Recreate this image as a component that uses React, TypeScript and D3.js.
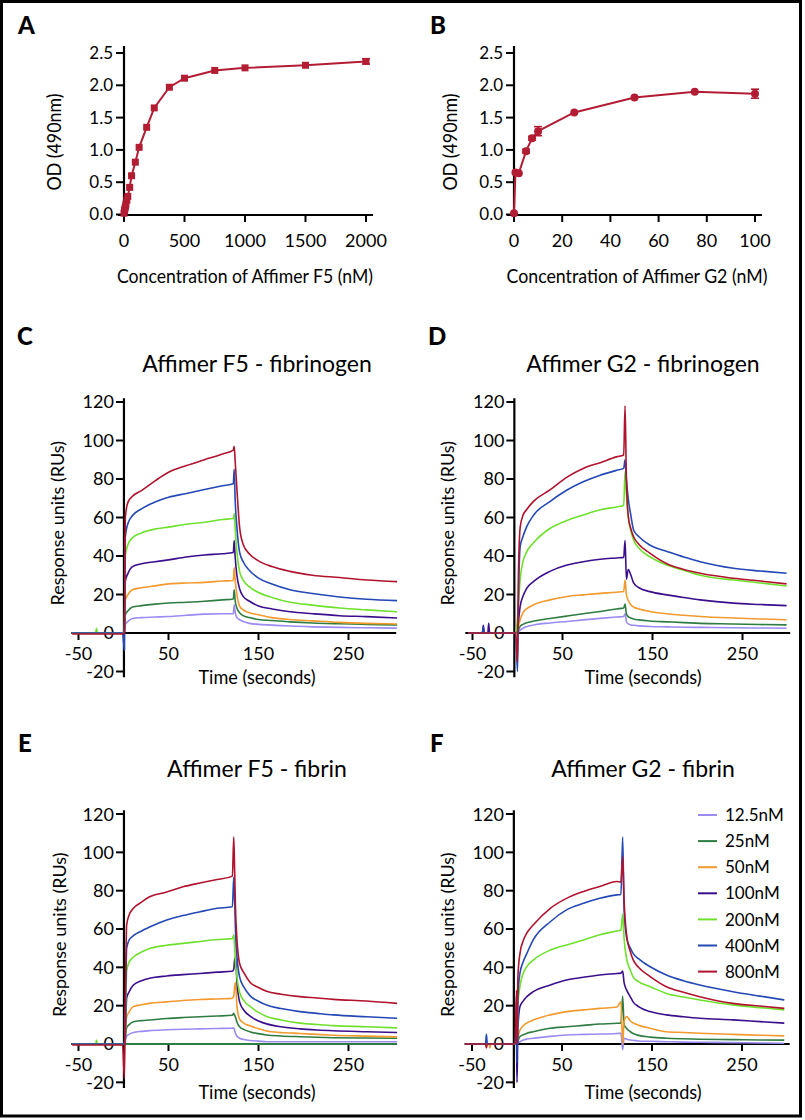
import React from "react";
import * as d3 from "d3";

const FONT = "Lato, 'Open Sans', sans-serif";

// ---------- Panel A: ELISA, Affimer F5 ----------
const f5Conc = [0, 3.9, 7.8, 11.7, 15.6, 23.4, 31.25, 46.9, 62.5, 93.75, 125, 187.5, 250, 375, 500, 750, 1000, 1500, 2000];
const f5OD = [0.02, 0.06, 0.09, 0.12, 0.16, 0.22, 0.28, 0.42, 0.6, 0.81, 1.04, 1.35, 1.65, 1.97, 2.11, 2.23, 2.27, 2.31, 2.37];
const f5Err = [0.01, 0.01, 0.01, 0.01, 0.01, 0.01, 0.02, 0.02, 0.02, 0.02, 0.02, 0.02, 0.02, 0.02, 0.02, 0.02, 0.02, 0.02, 0.04];
const f5XTicks = [0, 500, 1000, 1500, 2000];

// ---------- Panel B: ELISA, Affimer G2 ----------
const g2Conc = [0, 0.6, 2, 5, 7.5, 10, 25, 50, 75, 100];
const g2OD = [0.02, 0.65, 0.64, 0.98, 1.18, 1.29, 1.58, 1.81, 1.9, 1.87];
const g2Err = [0.01, 0.02, 0.02, 0.03, 0.03, 0.07, 0.02, 0.02, 0.02, 0.07];
const g2XTicks = [0, 20, 40, 60, 80, 100];

const odTicks = [0, 0.5, 1.0, 1.5, 2.0, 2.5];

// ---------- Sensorgram shared ----------
const concLabels = ["12.5nM", "25nM", "50nM", "100nM", "200nM", "400nM", "800nM"];
const concColors = ["#9a8cf0", "#2f7c42", "#f29a2e", "#3a0e8c", "#70e02e", "#2448b4", "#b0132d"];
const sensYTicks = [-20, 0, 20, 40, 60, 80, 100, 120];
const sensXTicks = [-50, 50, 150, 250];

// ---------- Panel C: F5 - fibrinogen ----------
const tC = [-57, -31, -30, -29, -1, 1, 2, 5, 10, 20, 35, 50, 70, 90, 110, 122, 123, 124, 126, 129, 133, 140, 150, 165, 185, 210, 240, 270, 304];
const c800 = [-0.5, -0.5, -0.5, -0.5, -0.5, 0, 60, 68, 71, 74, 79, 83.5, 87, 90, 93, 95, 97, 90, 75, 55, 46, 41, 37.5, 34.5, 32, 30, 28.8, 27.5, 26.7];
const c400 = [0, 0, 0, 0, 0, -9, 50, 57, 61, 64.5, 68, 70.5, 72.5, 74.5, 76.5, 77.5, 85, 70, 55, 42, 37, 32.5, 28.5, 25.5, 22.5, 20.5, 18.7, 17.5, 16.8];
const c200 = [0, 0, 2.5, 0, 0, 0, 40, 46, 49.5, 52, 54, 55, 56.5, 57.5, 59, 59.5, 62, 55, 42, 32, 27.5, 24, 21, 18.5, 16, 14.5, 13, 12, 11];
const c100 = [0, 0, 0, 0, 0, 0, 27, 31, 34.5, 36, 37, 38, 39.5, 40.5, 41.2, 41.8, 48, 40, 30, 23, 19, 16.5, 14, 12.5, 11, 10, 9, 8.5, 7.8];
const c50 = [0, 0, 0, 0, 0, 0, 17, 20, 22.5, 23.5, 24.5, 25.5, 26, 26.3, 27, 27.3, 34, 28, 20, 14, 12, 10.5, 9.5, 8, 7, 6.3, 5.5, 5, 4.7];
const c25 = [0, 0, 0, 0, 0, 0, 9.5, 11.5, 13.5, 14.2, 15, 15.6, 16, 16.5, 17.2, 17.7, 22.5, 17, 13, 10.5, 9, 8, 7, 6.5, 5.8, 5.2, 4.8, 4.5, 4.2];
const c12 = [0, 0, 0, 0, 0, 0, 4.5, 6, 7.5, 8, 8.3, 8.6, 9.2, 9.8, 10, 10, 14.7, 11, 8, 6.9, 6, 5, 4.5, 4.1, 3.6, 3.2, 2.9, 2.7, 2.5];

// ---------- Panel D: G2 - fibrinogen ----------
const tD = [-55, -39, -38, -37, -33, -32, -31, -2, 0, 1, 3, 6, 10, 18, 36, 55, 73, 92, 110, 118, 119.5, 121, 123, 126, 129, 135, 147, 166, 185, 203, 240, 270, 299];
const d800 = [0, 0, 0, 0, 0, 0, 0, 0, -15, 30, 55, 61, 64, 68.5, 74.3, 81, 85.5, 88.5, 91.5, 92.5, 118, 80, 61, 54, 50, 46, 41.5, 36, 33, 31, 28.4, 27, 25.5];
const d400 = [0, 0, 3, 0, 0, 0, 0, 0, -20, 15, 45, 50, 55, 61.3, 68.3, 74.3, 78.6, 82, 84.5, 85.5, 90, 80, 70, 61, 53.5, 50, 45.7, 42.3, 39.5, 37, 33.6, 32.2, 31];
const d200 = [0, 0, 0, 0, 0, 0, 0, 0, 8, 15, 28, 37, 42, 47, 54.3, 58.5, 61.3, 64, 65.5, 66.2, 84, 72, 60.5, 53, 48.3, 44, 39.6, 35.3, 32.5, 30, 27.5, 26, 24.4];
const d100 = [0, 0, 4, 0, 0, 5, 0, 0, 2, 6, 14, 19, 23, 26.8, 32, 35.3, 37, 38.3, 39, 39.3, 48, 28, 33, 30, 26, 23.5, 21.5, 19.8, 18.4, 17.2, 15.5, 14.8, 14.2];
const d50 = [0, 0, 3, 0, 0, 0, 0, 0, 0, 3, 7, 10.5, 12.5, 14.7, 17.2, 19, 19.8, 20.6, 21.2, 21.6, 27.5, 20, 17, 14.7, 13.5, 12.5, 11.2, 10, 9.2, 8.6, 7.8, 7.3, 6.9];
const d25 = [0, 0, 0, 0, 0, 0, 0, 0, 0, 1.5, 3.5, 4.5, 5.3, 6.2, 7.5, 8.8, 10, 11.2, 12.5, 13, 15, 10, 8.5, 7.8, 7.3, 6.8, 6.2, 5.8, 5.4, 5, 4.7, 4.4, 4.2];
const d12 = [0, 0, 0, 0, 0, 0, 0, 0, 0, 0.5, 1.5, 2.5, 3.3, 4.2, 5.2, 6, 6.8, 7.6, 8.3, 8.6, 10, 6, 4.8, 4.2, 4, 3.7, 3.4, 3.2, 3, 2.9, 2.7, 2.6, 2.5];

// ---------- Panel E: F5 - fibrin ----------
const tE = [-57, -31, -30, -29, -1, 1, 2.5, 3.5, 6, 11, 20, 29, 48, 66, 85, 104, 121, 122.5, 123.5, 124.5, 126, 129, 134, 141, 150, 159, 175, 196, 215, 233, 270, 304];
const e800 = [-0.5, -0.5, -0.5, -0.5, -0.5, -18, 40, 62, 67, 70.8, 74, 76.8, 79.3, 82, 84, 85.8, 87.6, 108, 90, 70, 55, 42, 37, 32, 29.5, 27.5, 26, 24.7, 24, 23.3, 22.4, 21.2];
const e400 = [0, 0, 0, 0, 0, 0, 30, 50, 54, 56.5, 59, 61, 64.7, 67, 69, 70.8, 71.6, 87, 75, 58, 46, 35, 29.5, 25, 22.3, 20.3, 18.5, 16.9, 16, 15.2, 14.2, 13.4];
const e200 = [0, 0, 2, 0, 0, 0, 20, 38, 42.5, 45.4, 48, 49.8, 51.5, 52.5, 53.5, 54.5, 55, 57, 50, 42, 35, 27, 22.5, 19.5, 16.5, 14.4, 12.5, 10.9, 10.2, 9.6, 9, 8.4];
const e100 = [0, 0, 0, 0, 0, 0, 12, 24, 27, 30.8, 33, 34.3, 35.5, 36.2, 36.8, 37.5, 38, 39, 44, 45.4, 33, 22, 17.5, 14.4, 12, 10.5, 9, 7.9, 7.3, 6.9, 6.4, 6];
const e50 = [0, 0, 0, 0, 0, 0, 8, 14, 16.5, 19.5, 20.5, 21.2, 22, 22.7, 23.2, 23.5, 23.8, 25, 30, 32, 20, 13, 10.8, 9.4, 8, 6.8, 6, 5.5, 5, 4.6, 4.1, 3.7];
const e25 = [0, 0, 0, 0, 0, 0, 5, 8.5, 10, 11.6, 12.2, 12.5, 13.3, 13.8, 14.2, 14.6, 15, 16, 15, 14, 11.5, 9, 7.5, 6.3, 5.4, 4.7, 4.2, 3.8, 3.5, 3.3, 3.1, 3];
const e12 = [0, 0, 0, 0, 0, 0, 2.5, 4, 5, 6, 6.6, 7, 7.4, 7.7, 7.9, 8.1, 8.2, 8.5, 7, 5.5, 4.2, 3, 2.3, 1.8, 1.5, 1.2, 1.2, 1.2, 1.2, 1.2, 1.2, 1.2];
const eRefTimes = [1, 304];
const eRefValues = [0, 0];

// ---------- Panel F: G2 - fibrin ----------
const tF = [-58, -35, -34, -33, -31, -30, -29, -2, -0.5, 0, 1, 3.3, 7, 11, 18, 37, 55, 74, 92, 111, 115.5, 117.4, 119, 122, 126, 129, 135, 148, 166, 185, 203, 240, 270, 297];
const f800 = [0, 0, -2, 0, 0, 0, 0, 0, 28, 0, 35, 47.3, 54, 58, 62.1, 70.8, 76, 79.6, 82.2, 84.8, 84.5, 97.7, 75, 56, 48, 44, 40, 35.2, 29.9, 27, 24.7, 21.2, 19.8, 18.6];
const f400 = [0, 0, 5, 0, 0, 0, 0, 0, 25, -10, 25, 37, 43, 47.3, 54.3, 63.8, 70, 73.4, 76, 77.8, 78, 108, 70, 55, 50, 47.3, 44.5, 40.3, 36, 33, 30.8, 27.3, 25, 23];
const f200 = [0, 0, 0, 0, 0, 0, 0, 0, 5, 0, 20, 30, 37, 40.5, 43.8, 49, 51.7, 54.3, 57, 59, 59.5, 68, 55, 44, 38.5, 35, 32.5, 29.9, 26.4, 24.5, 23, 20.4, 19, 17.8];
const f100 = [0, 0, 0, 0, 0, 0, 0, 0, 0, -20, 8, 19.5, 22.5, 24.7, 27.3, 30.8, 33.4, 34.8, 36, 36.8, 37, 38, 32, 28, 24.5, 22, 19.5, 16.9, 15.2, 14.2, 13.4, 12.6, 11.7, 10.9];
const f50 = [0, 0, -1, 0, 0, -2, 0, 0, 0, 0, 3, 7.3, 9.5, 11, 12.5, 15.2, 16.9, 17.8, 18.6, 19.3, 22, 0, 12, 14.3, 12, 11, 9.8, 8.2, 6.4, 6, 5.6, 5, 4.6, 4.2];
const f25 = [0, 0, 0, 0, 0, 0, 0, 0, 0, 0, 1.5, 3.9, 4.8, 5.6, 6.4, 8.2, 9, 9.7, 10.4, 10.8, 11, 25, 10, 8, 6.4, 5.5, 4.5, 3.6, 3, 2.7, 2.5, 2.3, 2.1, 2];
const f12 = [0, 0, 0, 0, 0, 0, 0, 0, 0, 0, 0.5, 1.2, 2.1, 2.6, 3, 4, 4.7, 5, 5.2, 5.5, 5.6, -3, 3, 2.5, 2.1, 1.9, 1.6, 1.4, 1.2, 1, 0.9, 0.7, 0.5, 0.4];

const RED = "#b21d34";

type ElisaProps = {
  label: string; labelX: number;
  axisX: number; xMin: number; xMax: number; xDomainMax: number;
  xTicks: number[]; conc: number[]; od: number[]; err: number[];
  marker: "square" | "circle";
  xTitle: string; xTitleCx: number; xTitleLen: number; yTitleCx: number;
};

function Elisa(p: ElisaProps) {
  const x = d3.scaleLinear().domain([0, p.xDomainMax]).range([p.axisX, p.xMax]);
  const y = d3.scaleLinear().domain([0, 2.5]).range([214.5, 53]);
  const pts: [number, number][] = p.conc.map((c, i) => [c, p.od[i]]);
  const line = d3.line<[number, number]>().x(d => x(d[0])).y(d => y(d[1]));
  const axY = 215;
  return (
    <g>
      <text x={p.labelX} y={34} fontFamily={FONT} fontWeight={900} fontSize={24}>{p.label}</text>
      {odTicks.map(t => (
        <g key={t}>
          <line x1={p.axisX - 8} x2={p.axisX} y1={y(t)} y2={y(t)} stroke="#000" strokeWidth={2} />
          <text x={p.axisX - 11} y={y(t)} dy="0.35em" textAnchor="end" fontFamily={FONT} fontSize={17}>{d3.format(".1f")(t)}</text>
        </g>
      ))}
      {p.xTicks.map(t => (
        <g key={t}>
          <line x1={x(t)} x2={x(t)} y1={axY} y2={axY + 7} stroke="#000" strokeWidth={2} />
          <text x={x(t)} y={241} dy="0.35em" textAnchor="middle" fontFamily={FONT} fontSize={18}>{t}</text>
        </g>
      ))}
      <line x1={p.axisX} x2={p.axisX} y1={46} y2={axY + 1} stroke="#000" strokeWidth={2.2} />
      <line x1={p.xMin} x2={p.xMax + 7} y1={axY} y2={axY} stroke="#000" strokeWidth={2.2} />
      <path d={line(pts) || ""} fill="none" stroke={RED} strokeWidth={2} />
      {pts.map((d, i) => (
        <g key={i}>
          {p.err[i] > 0.025 && (
            <g stroke={RED} strokeWidth={1.6}>
              <line x1={x(d[0])} x2={x(d[0])} y1={y(d[1] - p.err[i])} y2={y(d[1] + p.err[i])} />
              <line x1={x(d[0]) - 4} x2={x(d[0]) + 4} y1={y(d[1] - p.err[i])} y2={y(d[1] - p.err[i])} />
              <line x1={x(d[0]) - 4} x2={x(d[0]) + 4} y1={y(d[1] + p.err[i])} y2={y(d[1] + p.err[i])} />
            </g>
          )}
          {p.marker === "square"
            ? <rect x={x(d[0]) - 3.5} y={y(d[1]) - 3.5} width={7} height={7} fill={RED} />
            : <circle cx={x(d[0])} cy={y(d[1])} r={4} fill={RED} />}
        </g>
      ))}
      <text x={p.xTitleCx} y={276} dy="0.35em" textAnchor="middle" fontFamily={FONT} fontSize={19}
        textLength={p.xTitleLen} lengthAdjust="spacingAndGlyphs">{p.xTitle}</text>
      <text transform={`translate(${p.yTitleCx},142) rotate(-90)`} dy="0.35em" textAnchor="middle" fontFamily={FONT} fontSize={19}
        textLength={97} lengthAdjust="spacingAndGlyphs">OD (490nm)</text>
    </g>
  );
}

type SensProps = {
  label: string; labelX: number; labelY: number;
  zeroX: number; zeroY: number; px20: number; axisT: number;
  times: number[]; traces: number[][];
  title: string; titleCx: number; titleBase: number;
  yTitleCx: number; timeDy: number;
  extra?: { times: number[]; values: number[]; color: string };
  legend?: boolean;
};

function Sensorgram(p: SensProps) {
  const x = d3.scaleLinear().domain([0, 100]).range([p.zeroX, p.zeroX + 90]);
  const y = d3.scaleLinear().domain([0, 20]).range([p.zeroY, p.zeroY - p.px20]);
  const line = d3.line<[number, number]>().x(d => x(d[0])).y(d => y(d[1])).curve(d3.curveMonotoneX);
  const ax = x(p.axisT);
  const y0 = y(0);
  return (
    <g>
      <text x={p.labelX} y={p.labelY} fontFamily={FONT} fontWeight={900} fontSize={24}>{p.label}</text>
      <text x={p.titleCx} y={p.titleBase} textAnchor="middle" fontFamily={FONT} fontSize={23}>{p.title}</text>
      <text transform={`translate(${p.yTitleCx},${y(57)}) rotate(-90)`} dy="0.35em" textAnchor="middle" fontFamily={FONT} fontSize={18}>Response units (RUs)</text>
      {sensYTicks.map(t => (
        <g key={t}>
          <line x1={ax - 8} x2={ax} y1={y(t)} y2={y(t)} stroke="#000" strokeWidth={2} />
          <text x={ax - 10} y={y(t)} dy="0.36em" textAnchor="end" fontFamily={FONT} fontSize={18}>{t}</text>
        </g>
      ))}
      {sensXTicks.map(t => (
        <g key={t}>
          <line x1={x(t)} x2={x(t)} y1={y0} y2={y0 + 7} stroke="#000" strokeWidth={2} />
          <text x={x(t)} y={y0 + 21} dy="0.35em" textAnchor="middle" fontFamily={FONT} fontSize={18}>{t}</text>
        </g>
      ))}
      <text x={p.titleCx} y={y0 + p.timeDy} dy="0.35em" textAnchor="middle" fontFamily={FONT} fontSize={19}
        textLength={117} lengthAdjust="spacingAndGlyphs">Time (seconds)</text>
      <line x1={x(-58)} x2={x(303)} y1={y0} y2={y0} stroke="#000" strokeWidth={2.2} />
      <line x1={ax} x2={ax} y1={y(-23)} y2={y(122)} stroke="#000" strokeWidth={2.2} />
      {p.extra && (
        <path d={line(p.extra.times.map((t, i) => [t, p.extra!.values[i]] as [number, number])) || ""}
          fill="none" stroke={p.extra.color} strokeWidth={1.8} />
      )}
      {p.traces.map((vals, k) => (
        <path key={k} d={line(p.times.map((t, i) => [t, vals[i]] as [number, number])) || ""}
          fill="none" stroke={concColors[k]} strokeWidth={1.6} strokeLinejoin="round" />
      ))}
      {p.legend && concLabels.map((lab, k) => (
        <g key={lab}>
          <line x1={698} x2={717} y1={815 + k * 26.1} y2={815 + k * 26.1} stroke={concColors[k]} strokeWidth={2} />
          <text x={725} y={815 + k * 26.1} dy="0.36em" fontFamily={FONT} fontSize={17}>{lab}</text>
        </g>
      ))}
    </g>
  );
}

export default function App() {
  return (
    <div style={{ position: "absolute", left: 0, top: 0 }}>
      <svg width={805} height={1120} style={{ display: "block", background: "#fff" }}>
        <rect x={0} y={0} width={805} height={1120} fill="#fff" />
        <rect x={1.5} y={1.5} width={799} height={1114.5} fill="none" stroke="#000" strokeWidth={3} />
        <Elisa label="A" labelX={18} axisX={124} xMin={118} xMax={366} xDomainMax={2000}
          xTicks={f5XTicks} conc={f5Conc} od={f5OD} err={f5Err} marker="square"
          xTitle="Concentration of Affimer F5 (nM)" xTitleCx={245} xTitleLen={256} yTitleCx={54} />
        <Elisa label="B" labelX={430} axisX={514} xMin={507} xMax={755} xDomainMax={100}
          xTicks={g2XTicks} conc={g2Conc} od={g2OD} err={g2Err} marker="circle"
          xTitle="Concentration of Affimer G2 (nM)" xTitleCx={637} xTitleLen={261} yTitleCx={450} />
        <Sensorgram label="C" labelX={17} labelY={345} zeroX={123.5} zeroY={633} px20={38.5} axisT={0.5}
          times={tC} traces={[c12, c25, c50, c100, c200, c400, c800]}
          title="Affimer F5 - fibrinogen" titleCx={257} titleBase={372} yTitleCx={58} timeDy={44} />
        <Sensorgram label="D" labelX={428} labelY={345} zeroX={517.5} zeroY={633} px20={38.5} axisT={-3.5}
          times={tD} traces={[d12, d25, d50, d100, d200, d400, d800]}
          title="Affimer G2 - fibrinogen" titleCx={643} titleBase={372} yTitleCx={448} timeDy={44} />
        <Sensorgram label="E" labelX={18} labelY={752} zeroX={123.5} zeroY={1044} px20={38.33} axisT={0.5}
          times={tE} traces={[e12, e25, e50, e100, e200, e400, e800]}
          extra={{ times: eRefTimes, values: eRefValues, color: "#2f7c42" }}
          title="Affimer F5 - fibrin" titleCx={257} titleBase={777} yTitleCx={60} timeDy={48} />
        <Sensorgram label="F" labelX={430} labelY={752} zeroX={517} zeroY={1044} px20={38.33} axisT={-3.5}
          times={tF} traces={[f12, f25, f50, f100, f200, f400, f800]}
          title="Affimer G2 - fibrin" titleCx={643} titleBase={777} yTitleCx={448} timeDy={48} legend />
      </svg>
    </div>
  );
}
